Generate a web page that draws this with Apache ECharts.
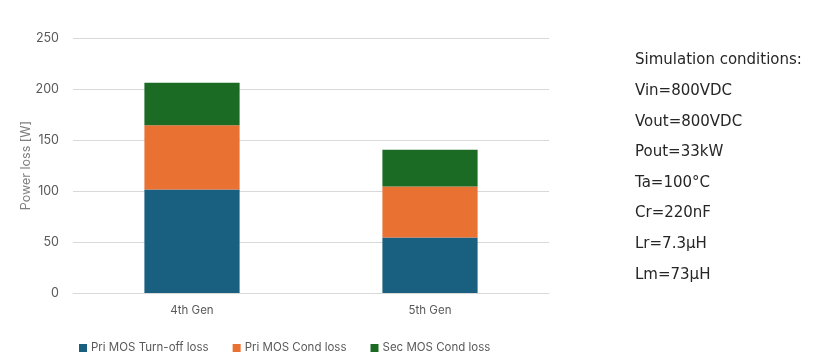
<!DOCTYPE html>
<html><head><meta charset="utf-8">
<script src="https://cdn.jsdelivr.net/npm/echarts@6/dist/echarts.min.js"></script>
<style>html,body{margin:0;padding:0;background:#fff}#c{width:831px;height:361px}</style>
</head><body><div id="c"></div>
<script>
const categories = ['4th Gen', '5th Gen'];
const seriesNames = ['Pri MOS Turn-off loss', 'Pri MOS Cond loss', 'Sec MOS Cond loss'];
const priTurnOff = [101.5, 54.3];
const priCond = [63.0, 50.2];
const secCond = [41.6, 36.0];
const yTicks = [0, 50, 100, 150, 200, 250];
const conditions = ['Simulation conditions:', 'Vin=800VDC', 'Vout=800VDC', 'Pout=33kW', 'Ta=100°C', 'Cr=220nF', 'Lr=7.3μH', 'Lm=73μH'];
const colors = ['#185f80', '#e97132', '#1c6b24'];

const chart = echarts.init(document.getElementById('c'));
const font = 'Inter, "Noto Sans", sans-serif';
chart.setOption({
  animation: false,
  textStyle: {fontFamily: font},
  grid: {left: 73, right: 282, top: 38, bottom: 68},
  legend: {
    top: 337, left: 74, itemWidth: 8, itemHeight: 8, itemGap: 24,
    icon: 'rect',
    textStyle: {color: '#595959', fontSize: 11.5, fontFamily: font, padding: [0, 0, 0, -1]},
    data: seriesNames
  },
  xAxis: {
    type: 'category', data: categories,
    axisLine: {lineStyle: {color: '#d9d9d9', width: 1}},
    axisTick: {show: false},
    axisLabel: {color: '#595959', fontSize: 11.5, margin: 12}
  },
  yAxis: {
    type: 'value', min: yTicks[0], max: yTicks[yTicks.length - 1], interval: 50,
    name: 'Power loss [W]', nameLocation: 'middle', nameGap: 40, nameRotate: 90,
    nameMoveOverlap: false,
    nameTextStyle: {color: '#7f7f7f', fontSize: 12.5},
    axisLine: {show: false}, axisTick: {show: false},
    axisLabel: {color: '#595959', fontSize: 12.5, margin: 14},
    splitLine: {lineStyle: {color: '#d9d9d9', width: 1}}
  },
  series: [
    {name: seriesNames[0], type: 'bar', stack: 's', data: priTurnOff, barWidth: '40%', itemStyle: {color: colors[0]}},
    {name: seriesNames[1], type: 'bar', stack: 's', data: priCond, barWidth: '40%', itemStyle: {color: colors[1]}},
    {name: seriesNames[2], type: 'bar', stack: 's', data: secCond, barWidth: '40%', itemStyle: {color: colors[2]}}
  ],
  graphic: conditions.map((t, i) => ({
    type: 'text', left: 635, top: 53 + i * 30.6,
    style: {text: t, fill: '#262626', font: '15px "DejaVu Sans", Verdana, sans-serif'}
  }))
});
</script></body></html>
